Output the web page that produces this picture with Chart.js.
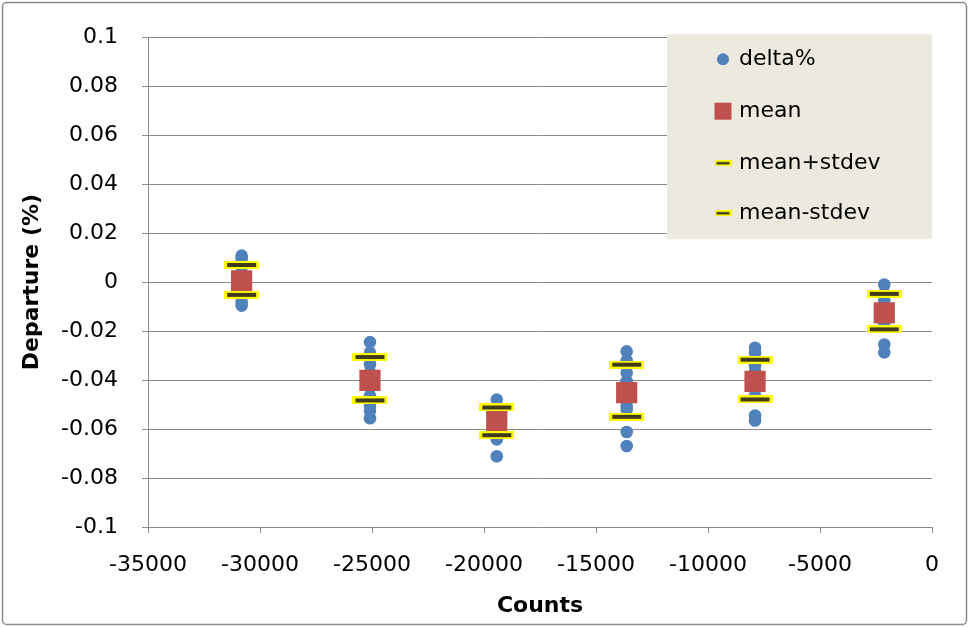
<!DOCTYPE html>
<html>
<head>
<meta charset="utf-8">
<script src="https://cdn.jsdelivr.net/npm/chart.js@4/dist/chart.umd.min.js"></script>
<style>
  html, body { margin: 0; padding: 0; background: #fff; }
  #c { display: block; }
</style>
</head>
<body>
<canvas id="c" width="969" height="627"></canvas>
<script>
// ---------- data ----------
const clusterCounts = [-30820, -25090, -19430, -13630, -7900, -2130];

const deltaC1 = [0.0108, 0.0095, 0.006, 0.002, -0.002, -0.005, -0.0082, -0.0096];
const deltaC2 = [-0.0245, -0.0288, -0.0335, -0.037, -0.043, -0.0465, -0.0505, -0.0525, -0.0556];
const deltaC3 = [-0.048, -0.0525, -0.0555, -0.058, -0.061, -0.0642, -0.0711];
const deltaC4 = [-0.0283, -0.032, -0.037, -0.0405, -0.0475, -0.0505, -0.052, -0.0612, -0.0669];
const deltaC5 = [-0.0268, -0.029, -0.034, -0.0365, -0.044, -0.0465, -0.0545, -0.0565];
const deltaC6 = [-0.001, -0.0045, -0.0075, -0.011, -0.0145, -0.017, -0.0255, -0.0287];
const deltaClusters = [deltaC1, deltaC2, deltaC3, deltaC4, deltaC5, deltaC6];

const meanValues      = [0.0005, -0.0401, -0.0568, -0.0451, -0.0405, -0.0126];
const meanPlusStdev   = [0.0070, -0.0306, -0.0512, -0.0337, -0.0317, -0.0048];
const meanMinusStdev  = [-0.0052, -0.0483, -0.0625, -0.0550, -0.0479, -0.0193];

const seriesNames = ['delta%', 'mean', 'mean+stdev', 'mean-stdev'];
const xTitle = 'Counts';
const yTitle = 'Departure (%)';

// ---------- build points ----------
const deltaPoints = [];
deltaClusters.forEach((vals, i) => vals.forEach(v => deltaPoints.push({x: clusterCounts[i], y: v})));
const toPts = arr => arr.map((v, i) => ({x: clusterCounts[i], y: v}));

// ---------- styles ----------
const FONT = 'DejaVu Sans';
const GRID = '#8a8a8a';
const BLUE = '#4F81BD';
const RED = '#C0504D';
const YELLOW = '#FFFF00';
const DARK = '#403A1F';

function dashMarker(w, h, inset, innerH) {
  const cv = document.createElement('canvas');
  cv.width = w; cv.height = h;
  const g = cv.getContext('2d');
  g.fillStyle = YELLOW; g.fillRect(0, 0, w, h);
  g.fillStyle = DARK; g.fillRect(inset, (h - innerH) / 2, w - 2 * inset, innerH);
  return cv;
}
const stdevMarker = dashMarker(35, 8, 3, 4);
const stdevLegendMarker = dashMarker(17, 6, 2, 2.5);

// ---------- plugins ----------
const frame = {
  id: 'frame',
  beforeDraw(chart) {
    const ctx = chart.ctx;
    ctx.save();
    ctx.fillStyle = '#fff';
    ctx.fillRect(0, 0, chart.width, chart.height);
    ctx.restore();
  },
  afterDraw(chart) {
    const ctx = chart.ctx;
    ctx.save();
    ctx.strokeStyle = '#8c8c8c';
    ctx.lineWidth = 1.5;
    ctx.beginPath();
    ctx.roundRect(2.5, 2.5, chart.width - 5, chart.height - 5, 4);
    ctx.stroke();
    ctx.restore();
  }
};

const boxLegend = {
  id: 'boxLegend',
  afterDraw(chart) {
    const ctx = chart.ctx;
    const area = chart.chartArea;
    const bx = area.right - 265, by = area.top - 3, bw = 265, bh = 205;
    ctx.save();
    ctx.fillStyle = '#ECEADF';
    ctx.fillRect(bx, by, bw, bh);
    const rows = [25, 77, 129, 179];
    const mx = bx + 56, tx = bx + 72;
    ctx.font = '22px "' + FONT + '"';
    ctx.textBaseline = 'middle';
    ctx.textAlign = 'left';
    chart.data.datasets.forEach((ds, i) => {
      const y = by + rows[i];
      if (ds.pointStyle === 'circle') {
        ctx.fillStyle = ds.backgroundColor;
        ctx.beginPath(); ctx.arc(mx, y, 6, 0, Math.PI * 2); ctx.fill();
      } else if (ds.pointStyle === 'rect') {
        ctx.fillStyle = ds.backgroundColor;
        ctx.fillRect(mx - 8.5, y - 8.5, 17, 17);
      } else {
        ctx.drawImage(stdevLegendMarker, mx - 8.5, y - 3);
      }
      ctx.fillStyle = '#000';
      ctx.fillText(ds.label, tx, y);
    });
    ctx.restore();
  }
};

// ---------- chart ----------
new Chart(document.getElementById('c'), {
  type: 'scatter',
  data: {
    datasets: [
      { label: seriesNames[0], data: deltaPoints, pointStyle: 'circle', pointRadius: 6.3,
        backgroundColor: BLUE, borderWidth: 0, pointBorderWidth: 0, order: 4 },
      { label: seriesNames[1], data: toPts(meanValues), pointStyle: 'rect', pointRadius: 15,
        backgroundColor: RED, borderWidth: 0, pointBorderWidth: 0, order: 3 },
      { label: seriesNames[2], data: toPts(meanPlusStdev), pointStyle: stdevMarker,
        backgroundColor: YELLOW, order: 2 },
      { label: seriesNames[3], data: toPts(meanMinusStdev), pointStyle: stdevMarker,
        backgroundColor: DARK, order: 1 }
    ]
  },
  options: {
    responsive: false,
    devicePixelRatio: 1,
    animation: false,
    layout: { padding: { left: 0, top: 36, right: 37, bottom: 0 } },
    plugins: { legend: { display: false }, tooltip: { enabled: false } },
    scales: {
      x: {
        type: 'linear', position: 'bottom', min: -35000, max: 0,
        afterFit(s) { s.height = 100; },
        ticks: { stepSize: 5000, color: '#000', padding: 19, maxRotation: 0,
                 font: { family: FONT, size: 22 }, callback: v => String(v) },
        grid: { drawOnChartArea: false, drawTicks: true, tickLength: 6, tickColor: GRID, color: GRID },
        border: { display: true, color: GRID, width: 1 },
        title: { display: true, text: xTitle, color: '#000',
                 font: { family: FONT, size: 22, weight: 'bold' }, padding: { top: 0, bottom: 8 } }
      },
      y: {
        type: 'linear', min: -0.1, max: 0.1,
        afterFit(s) { s.width = 148; },
        ticks: { stepSize: 0.02, color: '#000', padding: 24,
                 font: { family: FONT, size: 22 }, callback: v => String(Number(v.toFixed(2))) },
        grid: { color: GRID, lineWidth: 1, tickLength: 6, tickColor: GRID },
        border: { display: true, color: GRID, width: 1 },
        title: { display: true, text: yTitle, color: '#000',
                 font: { family: FONT, size: 22, weight: 'bold' }, padding: { top: 19, bottom: 0 } }
      }
    }
  },
  plugins: [frame, boxLegend]
});
</script>
</body>
</html>
